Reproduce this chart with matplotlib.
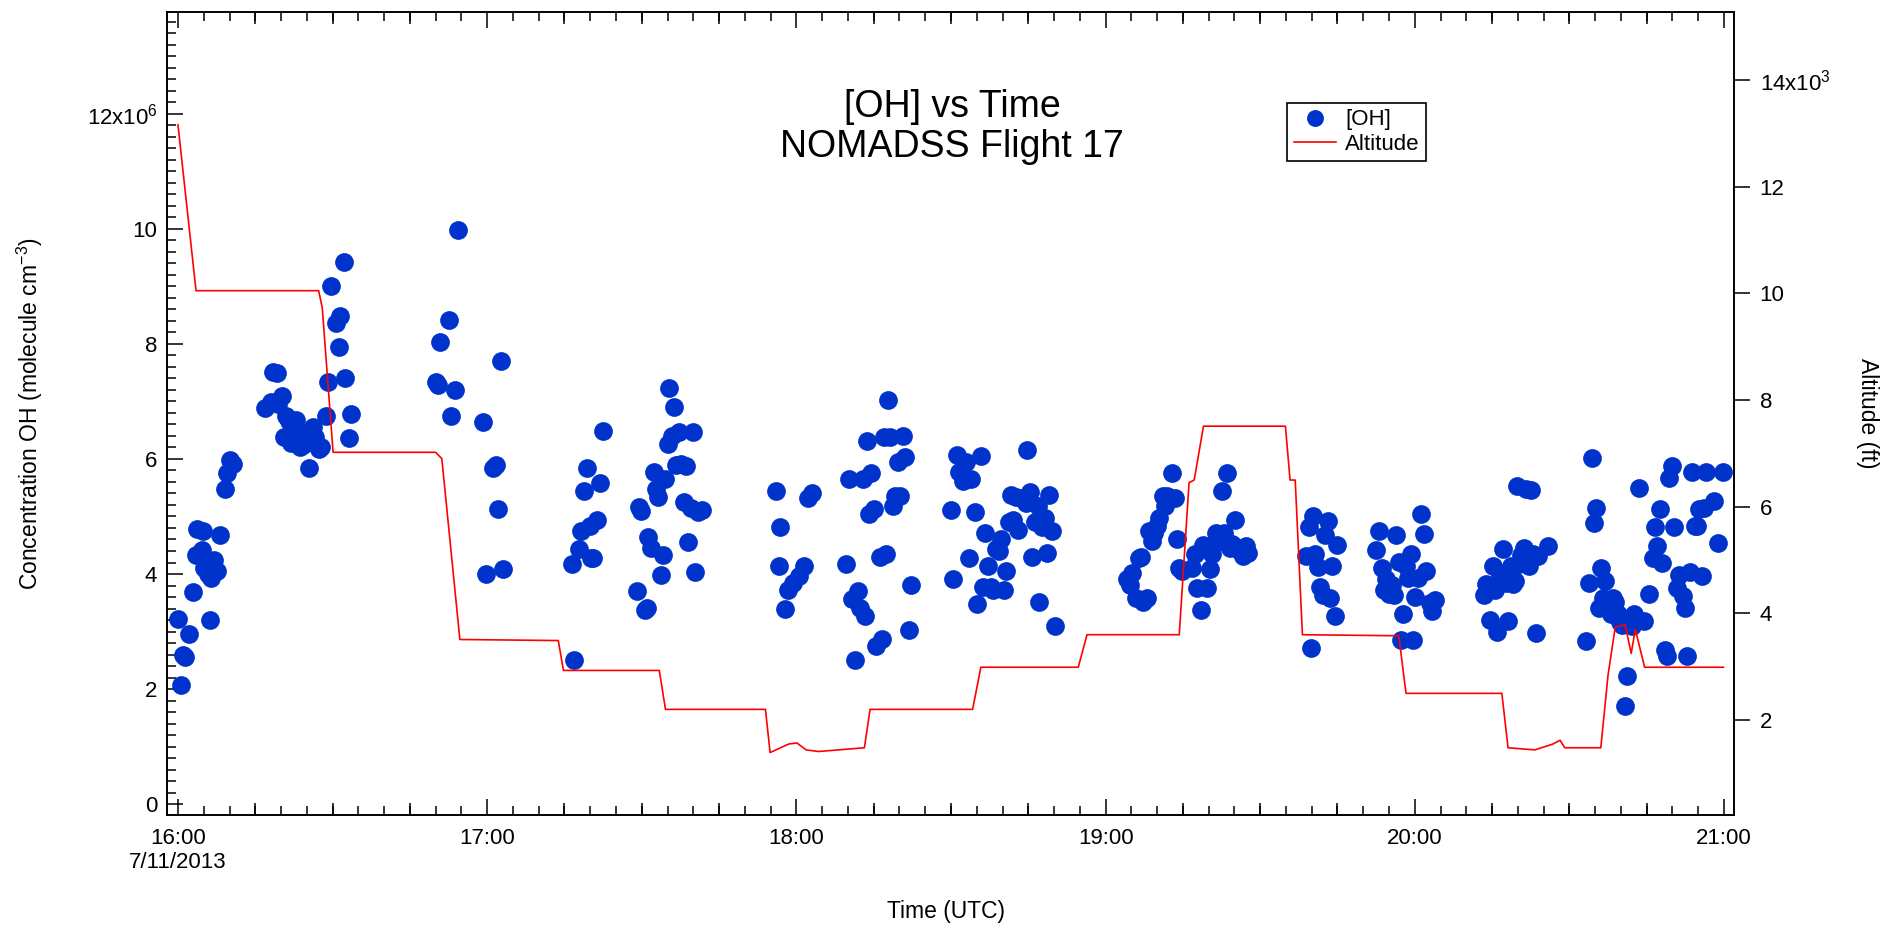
import matplotlib
matplotlib.use('Agg')
import matplotlib.pyplot as plt
from matplotlib.ticker import FixedLocator, MultipleLocator, FuncFormatter

plt.rcParams['font.family'] = ['Liberation Sans', 'DejaVu Sans']
plt.rcParams['mathtext.fontset'] = 'custom'
plt.rcParams['mathtext.rm'] = 'Liberation Sans'
plt.rcParams['mathtext.it'] = 'Liberation Sans:italic'

# OH samples: minutes after 16:00 UTC, concentration in 1e6 molecule cm^-3
oh_minutes = [
    0.0, 0.5, 0.9, 1.4, 2.1, 3.0, 3.5, 3.7, 4.7, 4.9, 5.1, 5.8, 6.3, 6.5, 7.0, 7.5, 8.2, 9.1, 9.6, 10.0, 10.7,
    16.8, 18.0, 18.5, 19.2, 19.4, 20.1, 20.6, 21.0, 21.5, 22.0, 22.4, 22.9, 23.1, 23.6, 24.3, 25.0, 25.5, 26.2,
    26.6, 27.3, 27.8, 28.7, 29.2, 29.7, 30.6, 31.3, 31.5, 32.2, 32.5, 33.2, 33.6,
    50.0, 50.5, 50.9, 52.6, 53.0, 53.7, 54.4, 59.1, 59.8, 61.2, 61.7, 62.1, 62.6, 63.1,
    76.4, 76.9, 77.8, 78.3, 78.7, 79.4, 79.9, 80.1, 80.6, 81.3, 81.8, 82.5,
    89.0, 89.5, 89.9, 90.6, 91.1, 91.3, 91.8, 92.3, 92.7, 93.2, 93.7, 94.1, 94.6, 95.1, 95.3, 95.8, 96.2, 96.7,
    97.2, 97.6, 98.1, 98.6, 99.0, 99.5, 100.0, 100.4, 100.9, 101.6,
    116.1, 116.6, 116.8, 117.7, 118.4, 119.4, 120.5, 121.5, 122.2, 123.1,
    129.6, 130.3, 130.8, 131.3, 132.0, 132.4, 132.9, 133.4, 133.8, 134.1, 134.5, 135.0, 135.5, 136.2, 136.7,
    137.1, 137.4, 137.8, 138.1, 138.8, 139.2, 139.7, 140.2, 140.6, 141.1, 141.8, 142.2,
    150.0, 150.4, 151.1, 151.6, 152.3, 153.0, 153.5, 153.9, 154.6, 155.1, 155.8, 156.3, 156.7, 157.2, 157.7,
    158.1, 158.8, 159.3, 159.8, 160.2, 160.7, 161.2, 161.6, 162.1, 162.6, 163.0, 163.5, 164.5, 164.7, 165.4,
    165.8, 166.3, 166.8, 167.0, 167.7, 168.2, 168.6, 169.1, 169.6, 170.1,
    184.1, 184.8, 185.2, 185.9, 186.4, 186.9, 187.3, 188.0, 188.5, 189.0, 189.4, 189.9, 190.4, 191.1, 191.5,
    192.0, 192.9, 193.4, 193.9, 194.3, 194.8,
    196.7, 197.4, 197.8, 198.5, 199.0, 199.7, 200.2, 200.7, 201.4, 201.8, 202.5, 203.0, 203.5, 204.2, 204.6,
    205.1, 205.6, 206.0, 206.7, 207.2, 207.7,
    218.9, 219.4, 219.8, 220.3, 220.7, 221.2, 221.7, 222.1, 222.6, 223.1, 223.5, 224.0, 224.5, 224.9,
    232.4, 233.1, 233.6, 234.1, 234.5, 235.0, 235.5, 235.9, 236.4, 236.9, 237.3, 237.8, 238.3, 238.7, 239.2,
    239.7, 240.1, 240.6, 241.3, 241.8, 242.2, 242.9, 243.4, 243.9,
    253.4, 253.9, 254.6, 255.1, 255.6, 256.0, 256.5, 257.2, 257.7, 258.1, 258.6, 259.1, 259.5, 259.8, 260.2,
    260.7, 261.2, 261.6, 262.1, 262.6, 263.0, 263.5, 264.0, 265.8,
    273.3, 273.8, 274.3, 274.7, 275.2, 275.7, 276.1, 276.6, 277.0, 277.5, 278.0, 278.5, 278.9, 279.4, 279.8,
    280.3, 280.8, 281.2, 281.7, 282.2, 282.6, 283.6, 284.5, 285.4, 286.2, 286.6, 287.1, 287.5, 288.0, 288.5,
    288.9, 289.4, 289.9, 290.4, 290.8, 291.3, 292.0, 292.5, 292.9, 293.4, 293.8, 294.3, 294.8, 295.2, 295.7,
    296.2, 296.6, 298.0, 298.9, 299.9,
]
oh_conc = [
    3.22, 2.07, 2.60, 2.55, 2.95, 3.68, 4.33, 4.79, 4.42, 4.75, 4.10, 4.00, 3.20, 3.93, 4.25, 4.06, 4.67, 5.48, 5.76, 5.99, 5.92,
    6.89, 6.99, 7.51, 7.49, 6.95, 7.10, 6.38, 6.74, 6.66, 6.28, 6.55, 6.68, 6.43, 6.20, 6.24, 6.45, 5.84, 6.55,
    6.38, 6.17, 6.20, 6.74, 7.33, 9.00, 8.37, 7.95, 8.48, 9.42, 7.41, 6.36, 6.78,
    7.33, 7.28, 8.04, 8.41, 6.74, 7.20, 9.98, 6.64, 4.00, 5.84, 5.90, 5.13, 7.70, 4.08,
    4.17, 2.51, 4.44, 4.75, 5.44, 5.84, 4.83, 4.27, 4.27, 4.94, 5.59, 6.49,
    3.70, 5.17, 5.09, 3.37, 3.41, 4.65, 4.46, 5.78, 5.48, 5.34, 3.98, 4.33, 5.65, 6.26, 7.24, 6.40, 6.91, 5.90,
    6.47, 5.92, 5.25, 5.88, 4.56, 5.15, 6.47, 4.04, 5.07, 5.11,
    5.45, 4.14, 4.81, 3.39, 3.73, 3.85, 3.96, 4.14, 5.32, 5.40,
    4.17, 5.65, 3.56, 2.51, 3.70, 3.41, 5.65, 3.27, 6.32, 5.04, 5.76, 5.13, 2.74, 4.29, 2.87,
    6.38, 4.35, 7.03, 6.38, 5.19, 5.36, 5.94, 5.36, 6.40, 6.03, 3.03, 3.81,
    5.11, 3.91, 6.07, 5.78, 5.61, 5.94, 4.27, 5.65, 5.07, 3.47, 6.05, 3.77, 4.71, 4.14, 3.77,
    3.73, 4.44, 4.40, 4.60, 3.73, 4.06, 4.90, 5.38, 4.94, 5.34, 4.77, 5.32, 5.23, 6.15, 5.42,
    4.29, 4.90, 5.19, 3.52, 4.81, 4.98, 4.37, 5.38, 4.75, 3.10,
    3.91, 3.81, 4.02, 3.58, 4.27, 4.29, 3.52, 3.58, 4.75, 4.58, 4.71, 4.83, 4.98, 5.36, 5.19,
    5.36, 5.76, 5.32, 4.60, 4.10, 4.06,
    4.10, 4.35, 3.75, 3.37, 4.50, 3.75, 4.08, 4.35, 4.71, 4.56, 5.45, 4.71, 5.76, 4.46, 4.52,
    4.94, 4.46, 4.40, 4.31, 4.48, 4.37,
    4.31, 4.81, 2.72, 5.00, 4.35, 4.12, 3.77, 3.64, 4.67, 4.92, 3.58, 4.14, 3.27, 4.50,
    4.42, 4.75, 4.10, 3.73, 3.91, 3.66, 3.81, 3.64, 4.67, 4.21, 2.85, 3.31, 4.14, 3.93, 4.35,
    2.85, 3.60, 3.93, 5.04, 4.69, 4.06, 3.50, 3.35, 3.54,
    3.64, 3.83, 3.20, 4.14, 3.73, 2.99, 3.98, 4.44, 3.85, 3.18, 4.14, 3.83, 3.87, 5.53, 4.17,
    4.33, 4.46, 5.48, 4.14, 5.46, 4.35, 2.97, 4.31, 4.48,
    2.83, 3.85, 6.01, 4.88, 5.15, 3.41, 4.10, 3.58, 3.87, 3.45, 3.31, 3.58, 3.52, 3.31, 3.16,
    3.12, 1.70, 2.22, 3.18, 3.10, 3.31, 5.50, 3.18, 3.66, 4.27, 4.81, 4.48, 5.13, 4.19, 2.68,
    2.57, 5.67, 5.88, 4.81, 3.75, 3.98, 3.62, 3.41, 2.57, 4.04, 5.78, 4.83, 4.83, 5.13, 3.96,
    5.15, 5.78, 5.27, 4.54, 5.78,
]

# aircraft altitude track: minutes after 16:00 UTC, feet
alt_minutes = [0.0, 3.5, 27.3, 28.0, 30.1, 50.0, 51.2, 54.7, 73.8, 74.8, 93.4, 94.6, 114.0, 114.9,
               118.5, 120.1, 121.9, 124.3, 133.2, 134.3, 154.2, 155.8, 174.7, 176.4, 193.2, 194.3,
               196.2, 197.2, 199.0, 214.9, 215.8, 216.8, 218.2, 236.9, 238.3, 256.9, 258.1, 263.3,
               266.8, 268.2, 269.1, 276.1, 277.5, 278.9, 280.8, 282.0, 282.8, 284.6, 299.9]
alt_feet = [13160, 10050, 10050, 9730, 7020, 7020, 6900, 3510, 3490, 2930, 2930, 2200, 2200, 1390,
            1550, 1570, 1440, 1410, 1480, 2200, 2200, 2990, 2990, 3600, 3600, 3600,
            6450, 6500, 7510, 7510, 6500, 6500, 3600, 3580, 2500, 2500, 1480, 1440,
            1550, 1620, 1480, 1480, 2840, 3740, 3790, 3250, 3700, 2990, 2990]

hour_ticks = [0, 60, 120, 180, 240, 300]
hour_labels = ['16:00\n7/11/2013', '17:00', '18:00', '19:00', '20:00', '21:00']
quarter_ticks = [m for m in range(0, 301, 15) if m % 60]
oh_ticks = [0, 2, 4, 6, 8, 10, 12]
alt_ticks = [2000, 4000, 6000, 8000, 10000, 12000, 14000]

fig = plt.figure(figsize=(18.87, 9.25), dpi=100)
ax = fig.add_axes([0.0885, 0.1189, 0.8304, 0.8681])
ax2 = ax.twinx()

oh_pts, = ax.plot(oh_minutes, oh_conc, 'o', color='#0033cc', markersize=13.5,
                  markeredgewidth=0, linestyle='none', label='[OH]')
alt_line, = ax2.plot(alt_minutes, alt_feet, color='#ff0000', linewidth=1.2, label='Altitude')

ax.set_xlim(-2.13, 301.94)
ax.set_ylim(-0.19, 13.77)
ax2.set_ylim(219, 15275)

for a in (ax, ax2):
    for sp in a.spines.values():
        sp.set_linewidth(1.2)

# time axis: hours labelled, 15 min medium ticks, 5 min minor ticks (top mirrored)
ax.set_xticks(hour_ticks, labels=hour_labels)
ax.xaxis.set_minor_locator(MultipleLocator(5))
ax.tick_params(axis='x', which='both', direction='in', top=True, bottom=True, width=1.1)
ax.tick_params(axis='x', which='major', length=11.5, pad=9, labelsize=16)
ax.tick_params(axis='x', which='minor', length=6.3)
for loc in ('bottom', 'top'):
    sec = ax.secondary_xaxis(loc)
    sec.set_xticks(quarter_ticks)
    sec.tick_params(direction='in', length=8.6, width=1.1, labelbottom=False, labeltop=False)
    sec.spines[loc].set_visible(False)

# OH axis
ax.yaxis.set_major_locator(FixedLocator(oh_ticks))
ax.yaxis.set_minor_locator(MultipleLocator(0.2))
ax.yaxis.set_major_formatter(FuncFormatter(
    lambda v, p: '12x10$^{\\mathregular{6}}$' if v == 12 else f'{v:g}'))
ax.tick_params(axis='y', which='both', direction='in', left=True, right=False, width=1.1)
ax.tick_params(axis='y', which='major', length=11.5, pad=7, labelsize=16)
ax.tick_params(axis='y', which='minor', length=6.5)

# altitude axis
ax2.yaxis.set_major_locator(FixedLocator(alt_ticks))
ax2.yaxis.set_major_formatter(FuncFormatter(
    lambda v, p: '14x10$^{\\mathregular{3}}$' if v == 14000 else f'{v / 1000:g}'))
ax2.tick_params(axis='y', which='major', direction='out', length=11.5, width=1.1, pad=7, labelsize=16)

ax.set_xlabel('Time (UTC)', fontsize=16.5, va='center')
ax.xaxis.set_label_coords(0.497, -0.1196)
ax.set_ylabel('Concentration OH (molecule cm$^{\\mathregular{-3}}$)', fontsize=16.5, va='center')
ax.yaxis.set_label_coords(-0.0874, 0.5)
ax2.set_ylabel('Altitude (ft)', fontsize=16.5, rotation=270, va='center')
ax2.yaxis.set_label_coords(1.085, 0.5)

ax.text(0.501, 0.857, '[OH] vs Time\nNOMADSS Flight 17', transform=ax.transAxes,
        ha='center', va='center', fontsize=27, linespacing=1.15)

leg = ax2.legend(handles=[oh_pts, alt_line], loc='upper left', bbox_to_anchor=(0.715, 0.887),
                 fontsize=16, frameon=True, fancybox=False, framealpha=1, edgecolor='black',
                 borderaxespad=0, borderpad=0.3, handlelength=1.9, handletextpad=0.4,
                 labelspacing=0.15, markerscale=0.9)
leg.get_frame().set_linewidth(1.2)

fig.savefig('out.png', dpi=100)
